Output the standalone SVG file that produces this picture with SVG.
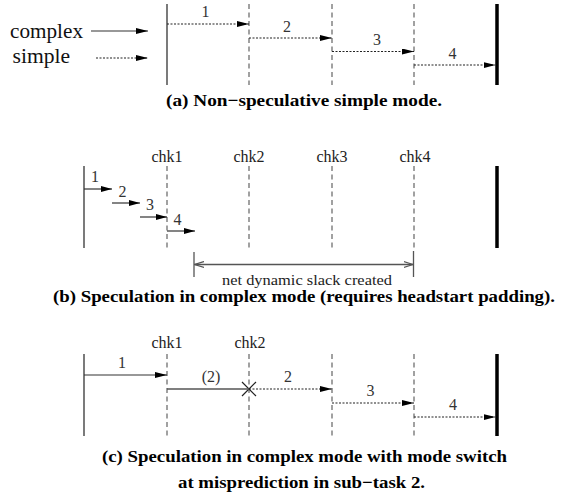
<svg xmlns="http://www.w3.org/2000/svg" width="561" height="496" viewBox="0 0 561 496">
<style>
text{font-family:"Liberation Serif","Times New Roman",serif}
.lbl{font-size:16px;fill:#333;text-anchor:middle}
.chk{font-size:16px;fill:#222;text-anchor:middle}
.cap{font-size:17.5px;font-weight:bold;fill:#000}
.leg{font-size:20px;fill:#111}
.start{stroke:#333;stroke-width:1.3}
.end{stroke:#000;stroke-width:3.5}
.cp{stroke:#555;stroke-width:1.1;stroke-dasharray:5,3.5}
.cx{stroke:#333;stroke-width:1.2;fill:none}
.sm{stroke:#222;stroke-width:1.1;stroke-dasharray:2,1.5;fill:none}
.sl{stroke:#555;stroke-width:1.3;fill:none}
</style>
<defs>
<marker id="ah" markerUnits="userSpaceOnUse" markerWidth="12" markerHeight="6" refX="12" refY="3" orient="auto"><path d="M0,0L12,3L0,6z" fill="#000"/></marker>
<marker id="ahs" markerUnits="userSpaceOnUse" markerWidth="11" markerHeight="6" refX="11" refY="3" orient="auto"><path d="M0,0L11,3L0,6z" fill="#000"/></marker>
<marker id="oa" markerUnits="userSpaceOnUse" markerWidth="10" markerHeight="8" refX="9.5" refY="4" orient="auto-start-reverse"><path d="M0,1L9.5,4L0,7" fill="none" stroke="#555" stroke-width="1.2"/></marker>
</defs>

<g id="legend">
<text class="leg" x="10" y="37.5" textLength="73" lengthAdjust="spacingAndGlyphs">complex</text>
<text class="leg" x="12.5" y="63" textLength="57.5" lengthAdjust="spacingAndGlyphs">simple</text>
<line class="cx" x1="91" y1="31" x2="148" y2="31" marker-end="url(#ah)"/>
<line class="sm" x1="96" y1="58" x2="148" y2="58" marker-end="url(#ah)"/>
</g>

<g id="panel-a">
<g id="a-start"><line class="start" x1="167" y1="4" x2="167" y2="85"/></g>
<g id="a-chk1"><line class="cp" x1="249" y1="4" x2="249" y2="85"/></g>
<g id="a-chk2"><line class="cp" x1="332" y1="4" x2="332" y2="85"/></g>
<g id="a-chk3"><line class="cp" x1="414" y1="4" x2="414" y2="85"/></g>
<g id="a-end"><line class="end" x1="497" y1="4" x2="497" y2="85"/></g>
<text class="cap" x="166" y="106" textLength="276" lengthAdjust="spacingAndGlyphs">(a) Non−speculative simple mode.</text>
</g>

<g id="panel-b">
<text class="chk" x="167" y="162">chk1</text>
<text class="chk" x="249" y="162">chk2</text>
<text class="chk" x="332" y="162">chk3</text>
<text class="chk" x="415" y="162">chk4</text>
<g id="b-start"><line class="start" x1="84" y1="166" x2="84" y2="248"/></g>
<g id="b-chk1"><line class="cp" x1="167" y1="166" x2="167" y2="248"/></g>
<g id="b-chk2"><line class="cp" x1="249" y1="166" x2="249" y2="248"/></g>
<g id="b-chk3"><line class="cp" x1="332" y1="166" x2="332" y2="248"/></g>
<g id="b-chk4"><line class="cp" x1="414" y1="166" x2="414" y2="248"/></g>
<g id="b-end"><line class="end" x1="497" y1="166" x2="497" y2="248"/></g>
<g id="b-slack">
<line class="sl" x1="194" y1="252" x2="194" y2="277"/>
<line class="sl" x1="413.5" y1="251" x2="413.5" y2="277"/>
<line class="sl" x1="194.5" y1="264.5" x2="413" y2="264.5" marker-start="url(#oa)" marker-end="url(#oa)"/>
<text x="222" y="284.5" font-size="15" fill="#222" textLength="170" lengthAdjust="spacingAndGlyphs">net dynamic slack created</text>
</g>
<text class="cap" x="53" y="302" textLength="502" lengthAdjust="spacingAndGlyphs">(b) Speculation in complex mode (requires headstart padding).</text>
</g>

<g id="panel-c">
<text class="chk" x="167" y="348">chk1</text>
<text class="chk" x="250" y="348">chk2</text>
<g id="c-start"><line class="start" x1="84" y1="354" x2="84" y2="436"/></g>
<g id="c-chk1"><line class="cp" x1="167" y1="354" x2="167" y2="436"/></g>
<g id="c-chk2"><line class="cp" x1="249" y1="354" x2="249" y2="436"/></g>
<g id="c-chk3"><line class="cp" x1="332" y1="354" x2="332" y2="436"/></g>
<g id="c-chk4"><line class="cp" x1="414" y1="354" x2="414" y2="436"/></g>
<g id="c-end"><line class="end" x1="497" y1="354" x2="497" y2="436"/></g>
<g id="c-mispredict"><path d="M242,382L256,396M256,382L242,396" stroke="#222" stroke-width="1.2"/></g>
<text class="cap" x="102" y="462" textLength="405" lengthAdjust="spacingAndGlyphs">(c) Speculation in complex mode with mode switch</text>
<text class="cap" x="178" y="488" textLength="247" lengthAdjust="spacingAndGlyphs">at misprediction in sub−task 2.</text>
</g>

<g id="connectors">
<line class="sm" x1="167" y1="24" x2="249" y2="24" marker-end="url(#ah)"/>
<line class="sm" x1="249" y1="38" x2="332" y2="38" marker-end="url(#ah)"/>
<line class="sm" x1="332" y1="51.5" x2="414" y2="51.5" marker-end="url(#ah)"/>
<line class="sm" x1="414" y1="65" x2="495.5" y2="65" marker-end="url(#ah)"/>
<text class="lbl" x="205.5" y="16.5">1</text>
<text class="lbl" x="287" y="31.5">2</text>
<text class="lbl" x="377" y="45">3</text>
<text class="lbl" x="452.5" y="59">4</text>

<line class="cx" x1="84" y1="189" x2="112" y2="189" marker-end="url(#ahs)"/>
<line class="cx" x1="112" y1="203" x2="140" y2="203" marker-end="url(#ahs)"/>
<line class="cx" x1="140" y1="217" x2="167" y2="217" marker-end="url(#ahs)"/>
<line class="cx" x1="167" y1="231" x2="195" y2="231" marker-end="url(#ahs)"/>
<text class="lbl" x="95" y="181.5">1</text>
<text class="lbl" x="122.5" y="196.5">2</text>
<text class="lbl" x="150" y="210">3</text>
<text class="lbl" x="177.5" y="225">4</text>

<line class="cx" x1="84" y1="375" x2="167" y2="375" marker-end="url(#ah)"/>
<line stroke="#555" stroke-width="1.3" x1="167" y1="389" x2="249" y2="389"/>
<line class="sm" x1="249" y1="389" x2="332" y2="389" marker-end="url(#ah)"/>
<line class="sm" x1="332" y1="403" x2="414" y2="403" marker-end="url(#ah)"/>
<line class="sm" x1="414" y1="417" x2="495.5" y2="417" marker-end="url(#ah)"/>
<text class="lbl" x="122" y="367.5">1</text>
<text class="lbl" x="211" y="382">(2)</text>
<text class="lbl" x="288" y="381.5">2</text>
<text class="lbl" x="370.5" y="395.5">3</text>
<text class="lbl" x="453" y="409.5">4</text>
</g>
</svg>
